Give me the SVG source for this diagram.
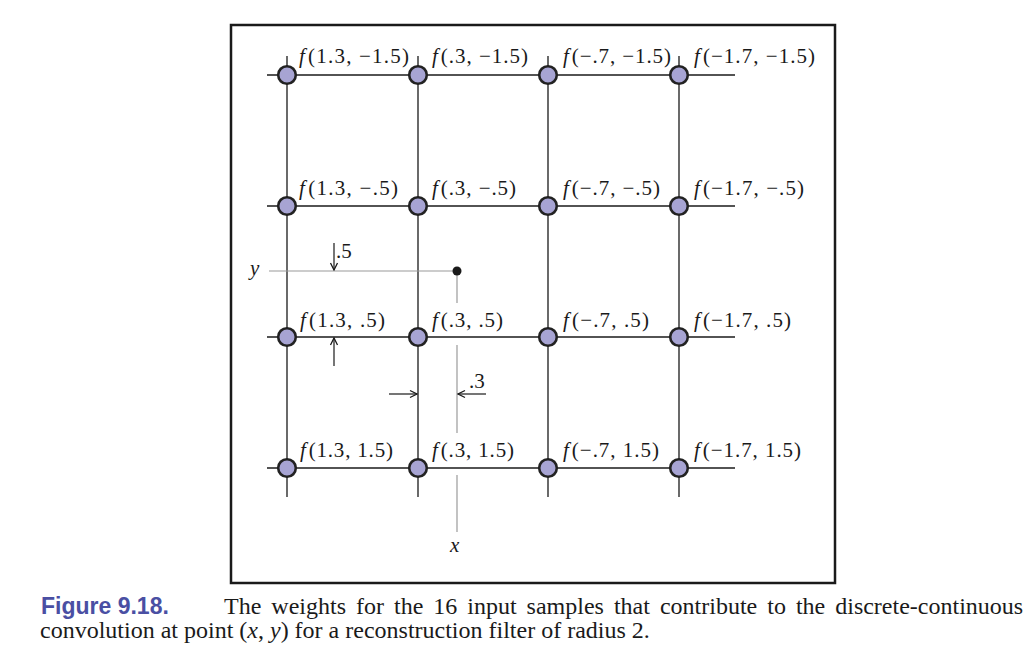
<svg xmlns="http://www.w3.org/2000/svg" width="1035" height="654" viewBox="0 0 1035 654">
<style>
.grid{stroke:#1a1a1a;stroke-width:1.3;fill:none}
.guide{stroke:#9a9a9a;stroke-width:1.2;fill:none}
.arr{stroke:#1a1a1a;stroke-width:1.2;fill:none;marker-end:url(#ah)}
.node{fill:#a7a4d3;stroke:#222;stroke-width:2.6}
.lbl{font-family:"Liberation Serif",serif;font-size:21px;fill:#1a1a1a}
.it{font-style:italic}
.cap{font-family:"Liberation Serif",serif;font-size:24px;fill:#1a1a1a}
.fig{font-family:"Liberation Sans",Arial,sans-serif;font-weight:bold;font-size:23px;fill:#4a4fa3}
</style>
<defs>
<marker id="ah" viewBox="0 0 10 10" refX="9" refY="5" markerWidth="10" markerHeight="10" markerUnits="userSpaceOnUse" orient="auto">
<path d="M2,1.5 L9,5 L2,8.5" fill="none" stroke="#1a1a1a" stroke-width="1.3"/>
</marker>
</defs>
<rect width="1035" height="654" fill="#fff"/>
<rect x="231" y="25" width="604" height="558" fill="none" stroke="#1a1a1a" stroke-width="2.5"/>

<g id="connectors">
<line class="grid" x1="267" y1="75" x2="735" y2="75"/>
<line class="grid" x1="267" y1="206" x2="735" y2="206"/>
<line class="grid" x1="267" y1="337" x2="735" y2="337"/>
<line class="grid" x1="267" y1="468" x2="735" y2="468"/>
<line class="grid" x1="287" y1="56" x2="287" y2="497"/>
<line class="grid" x1="418" y1="56" x2="418" y2="497"/>
<line class="grid" x1="548" y1="56" x2="548" y2="497"/>
<line class="grid" x1="679" y1="56" x2="679" y2="497"/>
</g>

<g id="point">
<line class="guide" x1="269" y1="271" x2="457" y2="271"/>
<line class="guide" x1="457" y1="271" x2="457" y2="303"/>
<line class="guide" x1="457" y1="345" x2="457" y2="433"/>
<line class="guide" x1="457" y1="475" x2="457" y2="532"/>
<circle cx="457" cy="271" r="4.5" fill="#1a1a1a"/>
<text class="lbl" x="250" y="275" font-style="italic" font-size="22">y</text>
<text class="lbl" x="450" y="552" font-style="italic" font-size="22">x</text>
</g>

<g id="offsets">
<line class="arr" x1="334" y1="243" x2="334" y2="270"/>
<line class="arr" x1="334" y1="366" x2="334" y2="338"/>
<line class="arr" x1="389" y1="394" x2="417" y2="394"/>
<line class="arr" x1="486" y1="394" x2="458" y2="394"/>
<text class="lbl" x="336" y="258">.5</text>
<text class="lbl" x="469" y="388">.3</text>
</g>

<g id="n11"><circle class="node" cx="287" cy="75" r="8.8"/><text class="lbl" x="299" y="63" textLength="110" lengthAdjust="spacing"><tspan class="it">f</tspan><tspan dx="2">(1.3, −1.5)</tspan></text></g>
<g id="n12"><circle class="node" cx="418" cy="75" r="8.8"/><text class="lbl" x="432" y="63" textLength="96" lengthAdjust="spacing"><tspan class="it">f</tspan><tspan dx="2">(.3, −1.5)</tspan></text></g>
<g id="n13"><circle class="node" cx="548" cy="75" r="8.8"/><text class="lbl" x="563" y="63" textLength="108" lengthAdjust="spacing"><tspan class="it">f</tspan><tspan dx="2">(−.7, −1.5)</tspan></text></g>
<g id="n14"><circle class="node" cx="679" cy="75" r="8.8"/><text class="lbl" x="694" y="63" textLength="121" lengthAdjust="spacing"><tspan class="it">f</tspan><tspan dx="2">(−1.7, −1.5)</tspan></text></g>

<g id="n21"><circle class="node" cx="287" cy="206" r="8.8"/><text class="lbl" x="299" y="195" textLength="99" lengthAdjust="spacing"><tspan class="it">f</tspan><tspan dx="2">(1.3, −.5)</tspan></text></g>
<g id="n22"><circle class="node" cx="418" cy="206" r="8.8"/><text class="lbl" x="432" y="195" textLength="84" lengthAdjust="spacing"><tspan class="it">f</tspan><tspan dx="2">(.3, −.5)</tspan></text></g>
<g id="n23"><circle class="node" cx="548" cy="206" r="8.8"/><text class="lbl" x="563" y="195" textLength="97" lengthAdjust="spacing"><tspan class="it">f</tspan><tspan dx="2">(−.7, −.5)</tspan></text></g>
<g id="n24"><circle class="node" cx="679" cy="206" r="8.8"/><text class="lbl" x="694" y="195" textLength="110" lengthAdjust="spacing"><tspan class="it">f</tspan><tspan dx="2">(−1.7, −.5)</tspan></text></g>

<g id="n31"><circle class="node" cx="287" cy="337" r="8.8"/><text class="lbl" x="300" y="327" textLength="85" lengthAdjust="spacing"><tspan class="it">f</tspan><tspan dx="2">(1.3, .5)</tspan></text></g>
<g id="n32"><circle class="node" cx="418" cy="337" r="8.8"/><text class="lbl" x="432" y="327" textLength="71" lengthAdjust="spacing"><tspan class="it">f</tspan><tspan dx="2">(.3, .5)</tspan></text></g>
<g id="n33"><circle class="node" cx="548" cy="337" r="8.8"/><text class="lbl" x="563" y="327" textLength="86" lengthAdjust="spacing"><tspan class="it">f</tspan><tspan dx="2">(−.7, .5)</tspan></text></g>
<g id="n34"><circle class="node" cx="679" cy="337" r="8.8"/><text class="lbl" x="694" y="327" textLength="97" lengthAdjust="spacing"><tspan class="it">f</tspan><tspan dx="2">(−1.7, .5)</tspan></text></g>

<g id="n41"><circle class="node" cx="287" cy="468" r="8.8"/><text class="lbl" x="300" y="457" textLength="93" lengthAdjust="spacing"><tspan class="it">f</tspan><tspan dx="2">(1.3, 1.5)</tspan></text></g>
<g id="n42"><circle class="node" cx="418" cy="468" r="8.8"/><text class="lbl" x="432" y="457" textLength="82" lengthAdjust="spacing"><tspan class="it">f</tspan><tspan dx="2">(.3, 1.5)</tspan></text></g>
<g id="n43"><circle class="node" cx="548" cy="468" r="8.8"/><text class="lbl" x="563" y="457" textLength="96" lengthAdjust="spacing"><tspan class="it">f</tspan><tspan dx="2">(−.7, 1.5)</tspan></text></g>
<g id="n44"><circle class="node" cx="679" cy="468" r="8.8"/><text class="lbl" x="694" y="457" textLength="107" lengthAdjust="spacing"><tspan class="it">f</tspan><tspan dx="2">(−1.7, 1.5)</tspan></text></g>

<g id="caption">
<text class="fig" x="41" y="614">Figure 9.18.</text>
<text class="cap" x="224" y="614" word-spacing="4">The weights for the 16 input samples that contribute to the discrete-continuous</text>
<text class="cap" x="40" y="638">convolution at point (<tspan font-style="italic">x</tspan>, <tspan font-style="italic">y</tspan>) for a reconstruction filter of radius 2.</text>
</g>
</svg>
